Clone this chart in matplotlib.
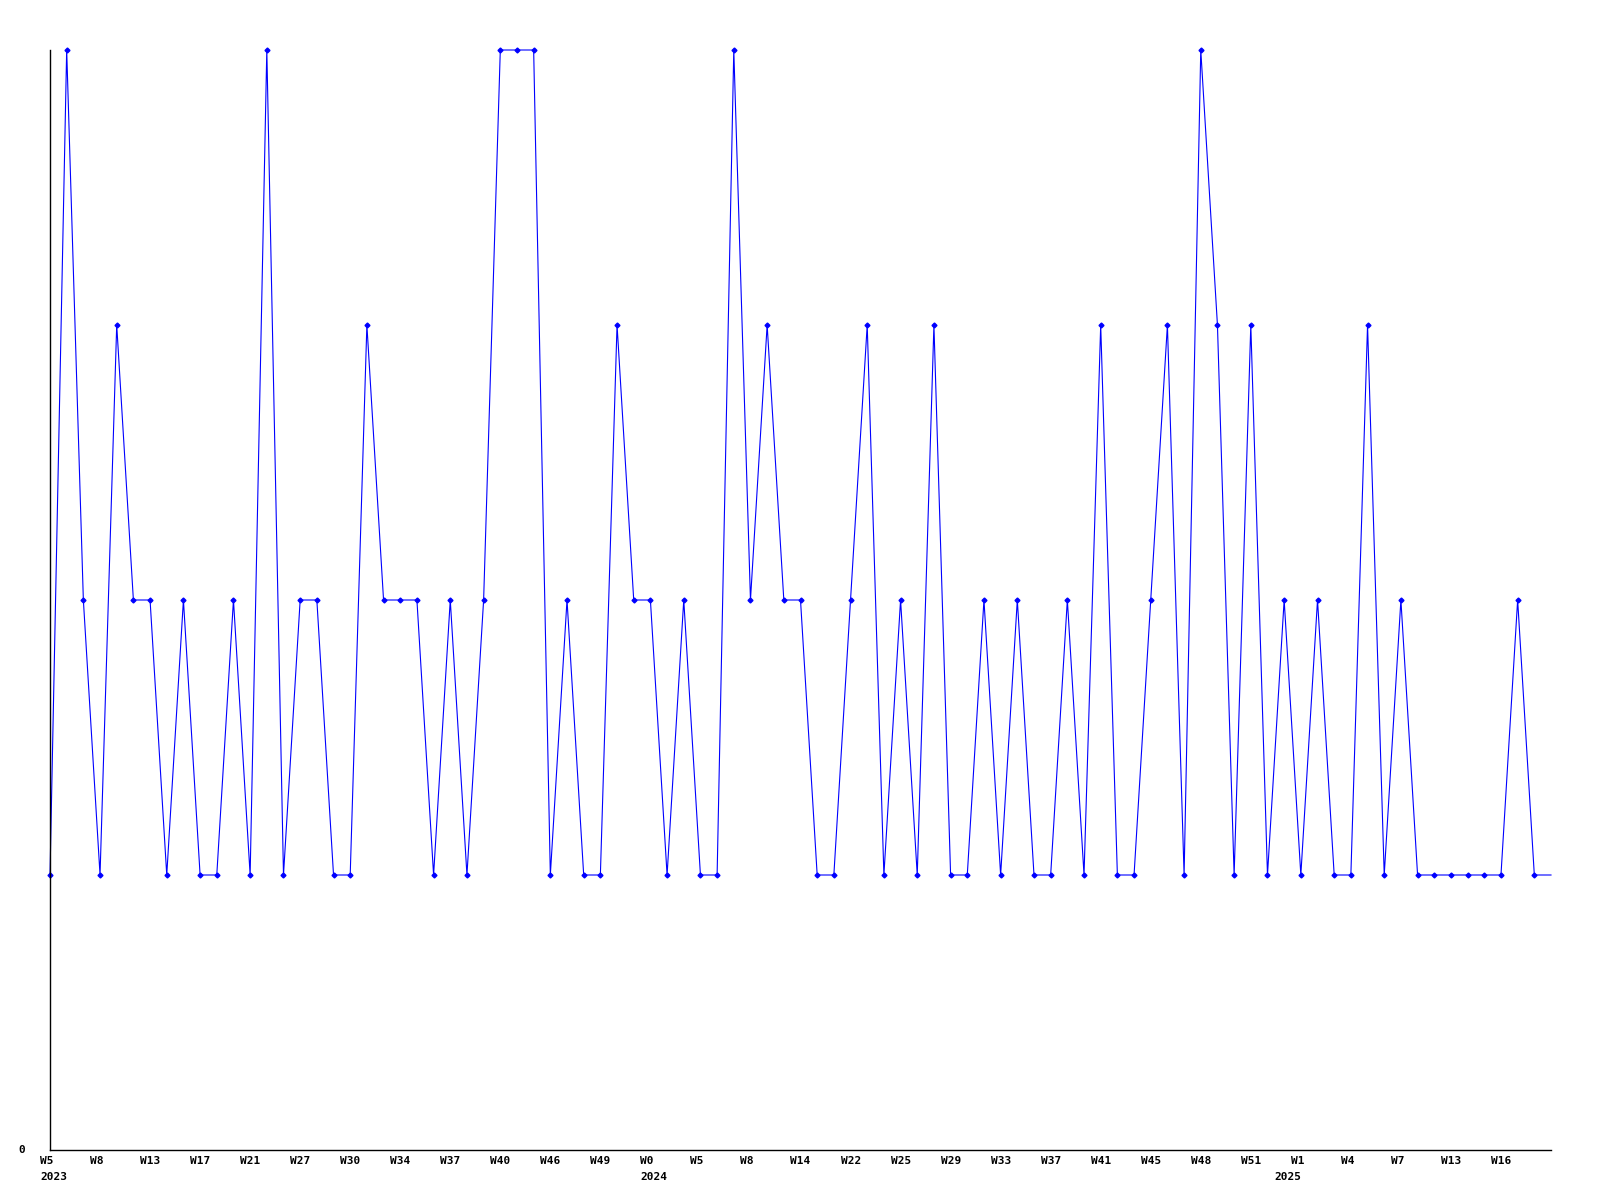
import matplotlib
matplotlib.use("Agg")
import matplotlib.pyplot as plt
import matplotlib.transforms as mtransforms

# weekly counts, one per week
values = [1, 4, 2, 1, 3, 2, 2, 1, 2, 1,
          1, 2, 1, 4, 1, 2, 2, 1, 1, 3,
          2, 2, 2, 1, 2, 1, 2, 4, 4, 4,
          1, 2, 1, 1, 3, 2, 2, 1, 2, 1,
          1, 4, 2, 3, 2, 2, 1, 1, 2, 3,
          1, 2, 1, 3, 1, 1, 2, 1, 2, 1,
          1, 2, 1, 3, 1, 1, 2, 3, 1, 4,
          3, 1, 3, 1, 2, 1, 2, 1, 1, 3,
          1, 2, 1, 1, 1, 1, 1, 1, 2, 1,
          1]

# a label every third week
week_labels = ["W5", "W8", "W13", "W17", "W21", "W27", "W30", "W34", "W37", "W40",
               "W46", "W49", "W0", "W5", "W8", "W14", "W22", "W25", "W29", "W33",
               "W37", "W41", "W45", "W48", "W51", "W1", "W4", "W7", "W13", "W16"]
year_labels = {0: "2023", 36: "2024", 74: "2025"}

x = list(range(len(values)))

fig = plt.figure(figsize=(16, 12), dpi=100)
ax = fig.add_axes([50 / 1600, 1 - 1150 / 1200, 1501 / 1600, 1100 / 1200])

# markers on every point except the trailing one
ax.plot(x, values, color="#0000ff", linewidth=0.8, marker="D", markersize=2.5,
        markevery=list(range(len(values) - 1)), clip_on=False)

ax.set_xlim(0, len(values) - 1)
ax.set_ylim(0, 4)
for side in ["top", "right"]:
    ax.spines[side].set_visible(False)
for side in ["left", "bottom"]:
    ax.spines[side].set_linewidth(1.0)
    ax.spines[side].set_color("black")
ax.set_xticks([])
ax.set_yticks([])

font = dict(family="DejaVu Sans Mono", fontweight="bold", fontsize=8)

# tick labels: left aligned, a little left of the tick
shift = mtransforms.ScaledTranslation(-10 / 100, 0, fig.dpi_scale_trans)
trans = mtransforms.blended_transform_factory(ax.transData, fig.transFigure) + shift
for k, lab in enumerate(week_labels):
    ax.text(3 * k, 1 - 1161 / 1200, lab, transform=trans, ha="left", va="center", **font)
for i, yr in year_labels.items():
    ax.text(i, 1 - 1177 / 1200, yr, transform=trans, ha="left", va="center", **font)

fig.text(22 / 1600, 1 - 1150 / 1200, "0", ha="center", va="center", **font)

fig.savefig("out.png", dpi=100, facecolor="white")
